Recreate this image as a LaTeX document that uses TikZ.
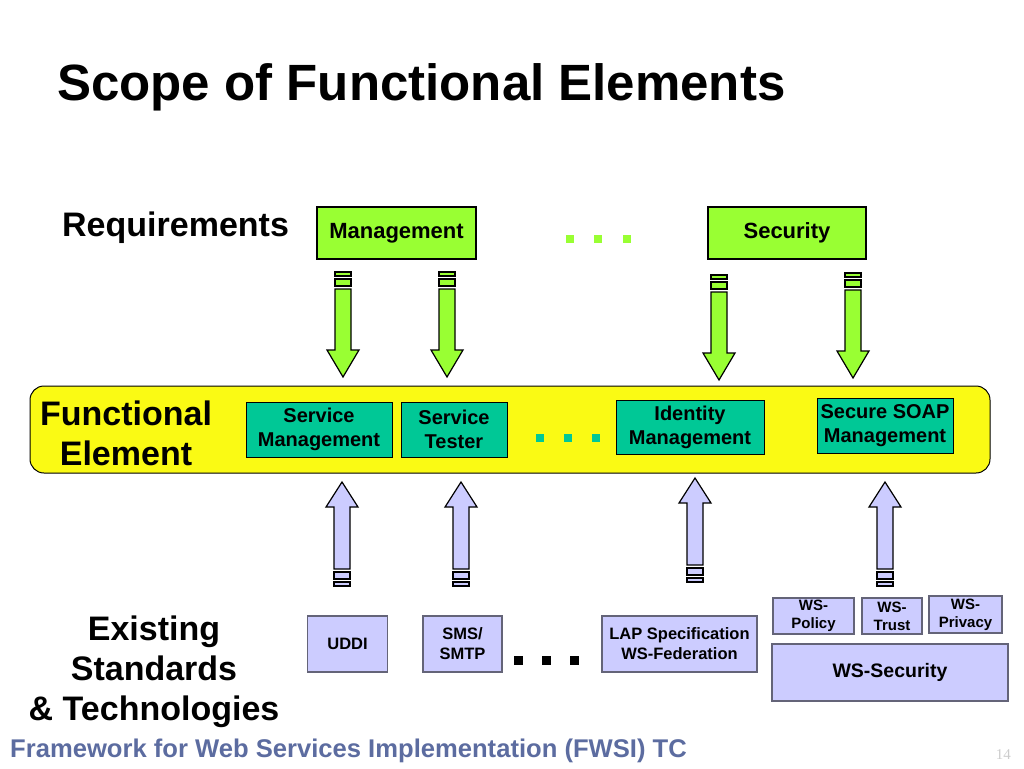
\documentclass[tikz,border=0pt]{standalone}
\usepackage{fontspec}
\setmainfont{Liberation Sans}
\usetikzlibrary{positioning}

\definecolor{reqgreen}{RGB}{153,255,51}
\definecolor{bandyellow}{RGB}{250,250,20}
\definecolor{feteal}{RGB}{0,200,150}
\definecolor{stdlav}{RGB}{204,204,255}
\definecolor{stdgray}{RGB}{100,100,120}
\definecolor{footblue}{RGB}{92,108,160}

\begin{document}
\begin{tikzpicture}[x=1pt,y=-1pt]

      \tikzstyle{reqbox}=[rectangle,draw=black,line width=1.5pt,
        fill=reqgreen,inner sep=0pt,minimum height=52pt,
        font=\bfseries\fontsize{22}{26}\selectfont]
      \tikzstyle{febox}=[rectangle,draw=black,line width=1pt,
        fill=feteal,inner sep=0pt,align=center,
        font=\bfseries\fontsize{20}{24}\selectfont]
      \tikzstyle{stdbox}=[rectangle,draw=stdgray,line width=1.2pt,
        fill=stdlav,inner sep=0pt,align=center,
        font=\bfseries\fontsize{16.5}{20}\selectfont]
      \tikzstyle{sidelabel}=[align=center,inner sep=0pt,
        font=\bfseries\fontsize{34}{40}\selectfont]

      \useasboundingbox (0,0) rectangle (1024,768);

      \node(title)[anchor=base west,inner sep=0pt,
        font=\bfseries\fontsize{51}{60}\selectfont]
        at (57,100) {Scope of Functional Elements};

      % requirements row
      \node(reqlabel)[sidelabel,anchor=base west] at (62,236) {Requirements};
      \node(mgmt)[reqbox,minimum width=159pt] at (396.5,233) {Management};
      \node(sec)[reqbox,minimum width=158pt] at (787,233) {Security};
      \foreach \x in {570,598,627}
        \fill[reqgreen] ({\x-4},235) rectangle ({\x+4},243);

      % down arrows
      \foreach \x/\t in {343/272,447/272,719/275,853/273}{
        \draw[fill=reqgreen,line width=1.2pt]
          ({\x-8},\t) rectangle ({\x+8},{\t+4})
          ({\x-8},{\t+7}) rectangle ({\x+8},{\t+14});
        \draw[fill=reqgreen,line width=1.2pt,line join=miter]
          ({\x-8},{\t+17}) -- ({\x-8},{\t+78}) -- ({\x-16},{\t+78})
          -- (\x,{\t+105}) -- ({\x+16},{\t+78}) -- ({\x+8},{\t+78})
          -- ({\x+8},{\t+17}) -- cycle;
      }

      % functional element band
      \node(band)[rectangle,rounded corners=14pt,draw=black,line width=1pt,
        fill=bandyellow,minimum width=960pt,minimum height=87pt]
        at (510,429.5) {};
      \node(felabel)[sidelabel] at (126,433) {Functional\\Element};
      \node(svcmgmt)[febox,minimum width=146pt,minimum height=55pt]
        at (319,429.5) {Service\\Management};
      \node(svctest)[febox,minimum width=106pt,minimum height=55pt,
        right=8pt of svcmgmt] {Service\\Tester};
      \node(idmgmt)[febox,minimum width=148pt,minimum height=54pt]
        at (690,427) {Identity\\Management};
      \node(soap)[febox,minimum width=136pt,minimum height=55pt]
        at (885,425.5) {Secure SOAP\\Management};
      \foreach \x in {540,568,596}
        \fill[feteal] ({\x-4},434) rectangle ({\x+4},442);

      % up arrows
      \foreach \x/\t in {342/482,461/482,695/478,885/482}{
        \draw[fill=stdlav,line width=1.2pt,line join=miter]
          (\x,\t) -- ({\x+16},{\t+25}) -- ({\x+8},{\t+25})
          -- ({\x+8},{\t+87}) -- ({\x-8},{\t+87}) -- ({\x-8},{\t+25})
          -- ({\x-16},{\t+25}) -- cycle;
        \draw[fill=stdlav,line width=1.2pt]
          ({\x-8},{\t+90}) rectangle ({\x+8},{\t+97})
          ({\x-8},{\t+100}) rectangle ({\x+8},{\t+104});
      }

      % existing standards row
      \node(stdlabel)[sidelabel] at (154,672)
        {Existing\\Standards\\\& Technologies};
      \node(uddi)[stdbox,minimum width=80pt,minimum height=56pt]
        at (347.5,644) {UDDI};
      \node(sms)[stdbox,minimum width=79pt,minimum height=56pt]
        at (462.5,644) {SMS/\\SMTP};
      \node(lap)[stdbox,minimum width=155pt,minimum height=56pt]
        at (679.5,644) {LAP Specification\\WS-Federation};
      \node(policy)[stdbox,minimum width=81pt,minimum height=36pt,
        font=\bfseries\fontsize{15}{18}\selectfont]
        at (813.5,616) {WS-\\Policy};
      \node(trust)[stdbox,minimum width=60pt,minimum height=36pt,
        font=\bfseries\fontsize{15}{18}\selectfont]
        at (892,616) {WS-\\Trust};
      \node(privacy)[stdbox,minimum width=73pt,minimum height=37pt,
        font=\bfseries\fontsize{15}{18}\selectfont]
        at (965.5,614.5) {WS-\\Privacy};
      \node(wssec)[stdbox,minimum width=236pt,minimum height=57pt,
        font=\bfseries\fontsize{19.5}{24}\selectfont]
        at (890,672.5) {WS-Security};
      \foreach \x in {518,546,574}
        \fill[black] ({\x-4.5},{655.5}) rectangle ({\x+4.5},{664.5});

      % footer
      \node(footer)[anchor=base west,inner sep=0pt,text=footblue,
        font=\bfseries\fontsize{25.6}{30}\selectfont]
        at (10,757) {Framework for Web Services Implementation (FWSI) TC};
      \node(pagenum)[anchor=base east,inner sep=0pt,text=black!20,
        font=\fontspec{Liberation Serif}\fontsize{15}{18}\selectfont]
        at (1011,759) {14};

    \end{tikzpicture}
\end{document}
